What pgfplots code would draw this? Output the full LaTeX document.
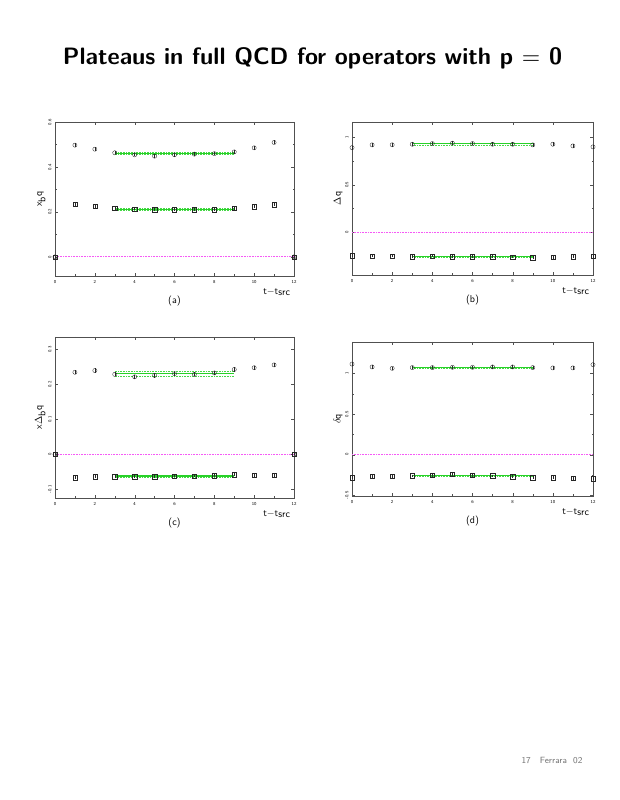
\documentclass[border=0pt]{standalone}
\usepackage{pgfplots}
\pgfplotsset{compat=1.18}
\usepackage{graphicx}
\definecolor{fitgreen}{RGB}{40,210,40}
\definecolor{bandgreen}{RGB}{70,215,70}
\definecolor{zeropink}{RGB}{245,90,245}
\definecolor{framecol}{RGB}{80,80,80}
\pgfplotsset{
  panel/.style={
    scale only axis, anchor=south west,
    xmin=0, xmax=12, xtick={0,2,...,12}, minor x tick num=1, minor y tick num=1,
    tick align=inside, major tick length=3pt, minor tick length=1.5pt,
    tick style={framecol, line width=0.3pt},
    axis line style={framecol, line width=0.5pt},
    tick label style={font=\sffamily\fontsize{4.5}{5}\selectfont},
    /pgf/number format/assume math mode=true,
    yticklabel style={rotate=90, anchor=south},
    xticklabel style={yshift=-1pt},
    xlabel style={at={(rel axis cs:1,0)}, anchor=north east, yshift=-9pt, font=\sffamily\fontsize{10}{12}\selectfont},
    ylabel style={font=\sffamily\fontsize{10}{12}\selectfont, yshift=-4pt},
    title style={at={(rel axis cs:0.5,0)}, anchor=north, yshift=-22pt, font=\sffamily\fontsize{10}{12}\selectfont},
    xlabel={t$-$t$_{\textsf{src}}$},
    clip=false,
  },
  pts/.style={only marks, color=black!85, line width=0.35pt, mark size=2.1pt,
    error bars/y dir=both, error bars/y explicit, error bars/error mark=none,
    error bars/error bar style={color=black!85, line width=0.35pt, solid}},
  circ/.style={pts, mark=o},
  sq/.style={pts, mark=square},
  fit/.style={color=fitgreen, solid, line width=1.1pt, mark=none},
  band/.style={color=bandgreen, line cap=butt, dash pattern=on 0.8pt off 0.8pt, line width=0.5pt, mark=none},
  zero/.style={color=zeropink, line cap=butt, dash pattern=on 0.8pt off 0.8pt, line width=0.9pt, mark=none},
}
\begin{document}
\begin{tikzpicture}
\useasboundingbox (0pt,0pt) rectangle (619pt,800pt);
\node at (312.5pt,742pt) {\resizebox{499pt}{!}{\sffamily\bfseries Plateaus in full QCD for operators with p $=$ 0}};

% (a)
\begin{axis}[panel, at={(55pt,524pt)}, width=239pt, height=154pt,
  ymin=-0.085, ymax=0.6, ytick={0,0.2,0.4,0.6},
  ylabel={x$_{\textsf{b}}$q}, title={(a)}]
\addplot[zero] coordinates {(0,0) (12,0)};
\addplot[band] coordinates {(3,0.465) (9,0.465)};
\addplot[band] coordinates {(3,0.455) (9,0.455)};
\addplot[fit] coordinates {(3,0.46) (9,0.46)};
\addplot[band] coordinates {(3,0.216) (9,0.216)};
\addplot[band] coordinates {(3,0.208) (9,0.208)};
\addplot[fit] coordinates {(3,0.212) (9,0.212)};
\addplot[circ] coordinates {(0,0)+-(0,0.004) (1,0.497)+-(0,0.008) (2,0.479)+-(0,0.008) (3,0.463)+-(0,0.007) (4,0.454)+-(0,0.007) (5,0.448)+-(0,0.008) (6,0.454)+-(0,0.008) (7,0.457)+-(0,0.008) (8,0.459)+-(0,0.008) (9,0.467)+-(0,0.008) (10,0.485)+-(0,0.009) (11,0.509)+-(0,0.009) (12,0)+-(0,0.004)};
\addplot[sq] coordinates {(0,0)+-(0,0.004) (1,0.233)+-(0,0.006) (2,0.225)+-(0,0.006) (3,0.216)+-(0,0.006) (4,0.213)+-(0,0.006) (5,0.21)+-(0,0.006) (6,0.21)+-(0,0.006) (7,0.21)+-(0,0.006) (8,0.21)+-(0,0.006) (9,0.215)+-(0,0.006) (10,0.223)+-(0,0.006) (11,0.232)+-(0,0.006) (12,0)+-(0,0.004)};
\end{axis}

% (b)
\begin{axis}[panel, at={(352pt,525pt)}, width=241pt, height=153pt,
  ymin=-0.45, ymax=1.16, ytick={0,0.5,1},
  ylabel={$\Delta$q}, title={(b)}]
\addplot[zero] coordinates {(0,0) (12,0)};
\addplot[band] coordinates {(3,0.941) (9,0.941)};
\addplot[band] coordinates {(3,0.919) (9,0.919)};
\addplot[fit] coordinates {(3,0.93) (9,0.93)};
\addplot[band] coordinates {(3,-0.249) (9,-0.249)};
\addplot[band] coordinates {(3,-0.265) (9,-0.265)};
\addplot[fit] coordinates {(3,-0.257) (9,-0.257)};
\addplot[circ] coordinates {(0,0.89)+-(0,0.02) (1,0.919)+-(0,0.02) (2,0.92)+-(0,0.02) (3,0.926)+-(0,0.02) (4,0.933)+-(0,0.02) (5,0.937)+-(0,0.02) (6,0.933)+-(0,0.02) (7,0.926)+-(0,0.02) (8,0.926)+-(0,0.02) (9,0.919)+-(0,0.02) (10,0.926)+-(0,0.02) (11,0.908)+-(0,0.02) (12,0.898)+-(0,0.02)};
\addplot[sq] coordinates {(0,-0.246)+-(0,0.015) (1,-0.25)+-(0,0.015) (2,-0.25)+-(0,0.015) (3,-0.257)+-(0,0.015) (4,-0.25)+-(0,0.015) (5,-0.257)+-(0,0.015) (6,-0.257)+-(0,0.015) (7,-0.257)+-(0,0.015) (8,-0.26)+-(0,0.015) (9,-0.267)+-(0,0.015) (10,-0.264)+-(0,0.015) (11,-0.257)+-(0,0.015) (12,-0.253)+-(0,0.015)};
\end{axis}

% (c)
\begin{axis}[panel, at={(55pt,302pt)}, width=239pt, height=161pt,
  ymin=-0.125, ymax=0.336, ytick={-0.1,0,0.1,0.2,0.3}, minor y tick num=0,
  ylabel={x$\Delta_{\textsf{b}}$q}, title={(c)}]
\addplot[zero] coordinates {(0,0) (12,0)};
\addplot[band] coordinates {(3,0.237) (9,0.237)};
\addplot[band] coordinates {(3,0.225) (9,0.225)};
\addplot[fit] coordinates {(3,0.231) (9,0.231)};
\addplot[band] coordinates {(3,-0.059) (9,-0.059)};
\addplot[band] coordinates {(3,-0.065) (9,-0.065)};
\addplot[fit] coordinates {(3,-0.062) (9,-0.062)};
\addplot[circ] coordinates {(0,0)+-(0,0.003) (1,0.235)+-(0,0.006) (2,0.24)+-(0,0.006) (3,0.229)+-(0,0.006) (4,0.222)+-(0,0.006) (5,0.226)+-(0,0.006) (6,0.231)+-(0,0.006) (7,0.229)+-(0,0.006) (8,0.233)+-(0,0.006) (9,0.243)+-(0,0.006) (10,0.248)+-(0,0.006) (11,0.256)+-(0,0.006) (12,0)+-(0,0.003)};
\addplot[sq] coordinates {(0,0)+-(0,0.003) (1,-0.067)+-(0,0.004) (2,-0.064)+-(0,0.004) (3,-0.064)+-(0,0.004) (4,-0.064)+-(0,0.004) (5,-0.064)+-(0,0.004) (6,-0.062)+-(0,0.004) (7,-0.062)+-(0,0.004) (8,-0.061)+-(0,0.004) (9,-0.058)+-(0,0.004) (10,-0.06)+-(0,0.004) (11,-0.06)+-(0,0.004) (12,0)+-(0,0.003)};
\end{axis}

% (d)
\begin{axis}[panel, at={(352pt,304pt)}, width=241pt, height=154pt,
  ymin=-0.51, ymax=1.39, ytick={-0.5,0,0.5,1},
  ylabel={$\delta$q}, title={(d)}]
\addplot[zero] coordinates {(0,0) (12,0)};
\addplot[band] coordinates {(3,1.083) (9,1.083)};
\addplot[band] coordinates {(3,1.065) (9,1.065)};
\addplot[fit] coordinates {(3,1.074) (9,1.074)};
\addplot[band] coordinates {(3,-0.251) (9,-0.251)};
\addplot[band] coordinates {(3,-0.269) (9,-0.269)};
\addplot[fit] coordinates {(3,-0.26) (9,-0.26)};
\addplot[circ] coordinates {(0,1.118)+-(0,0.02) (1,1.082)+-(0,0.02) (2,1.065)+-(0,0.02) (3,1.074)+-(0,0.02) (4,1.074)+-(0,0.02) (5,1.078)+-(0,0.02) (6,1.078)+-(0,0.02) (7,1.082)+-(0,0.02) (8,1.082)+-(0,0.02) (9,1.074)+-(0,0.02) (10,1.07)+-(0,0.02) (11,1.07)+-(0,0.02) (12,1.11)+-(0,0.02)};
\addplot[sq] coordinates {(0,-0.284)+-(0,0.015) (1,-0.268)+-(0,0.015) (2,-0.268)+-(0,0.015) (3,-0.26)+-(0,0.015) (4,-0.256)+-(0,0.015) (5,-0.243)+-(0,0.015) (6,-0.256)+-(0,0.015) (7,-0.26)+-(0,0.015) (8,-0.272)+-(0,0.015) (9,-0.284)+-(0,0.015) (10,-0.284)+-(0,0.015) (11,-0.292)+-(0,0.015) (12,-0.296)+-(0,0.015)};
\end{axis}

\node[anchor=east, text=black!55] at (586pt,40pt) {\sffamily\fontsize{9}{11}\selectfont 17\quad Ferrara\ \ 02};
\end{tikzpicture}
\end{document}
